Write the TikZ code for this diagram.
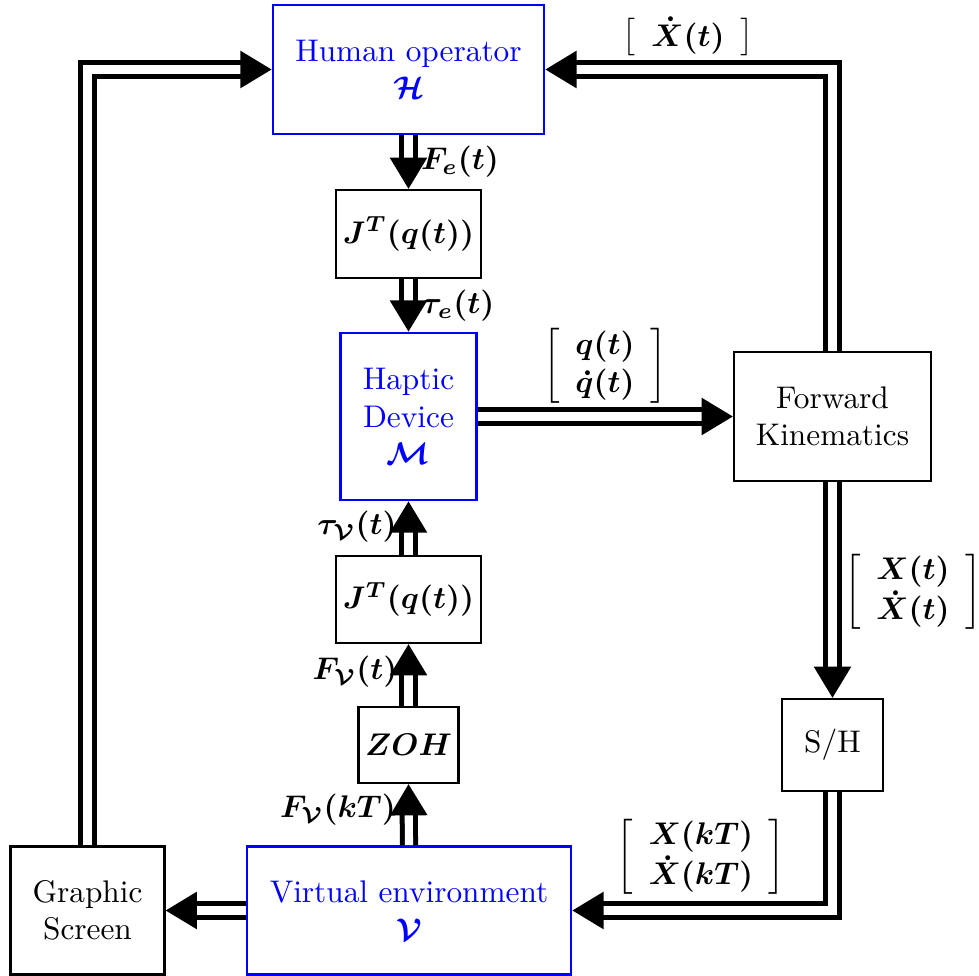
\documentclass[tikz,border=0pt]{standalone}
\usepackage{amsmath}
\usepackage{bm}
\usetikzlibrary{arrows.meta}
\newdimen\pxu \pxu=0.3195pt
\begin{document}
\begin{tikzpicture}[x=0.3195pt,y=-0.3195pt,
 blk/.style={draw=black, line width=0.7pt, align=center, inner sep=0pt},
 blu/.style={draw=blue, text=blue, line width=0.85pt, align=center, inner sep=0pt},
 dbl/.style={draw=black, line width=1.6pt, double=white, double distance=2.6pt, line join=miter, -{Triangle[width=11.6pt,length=10pt]}},
 lbl/.style={inner sep=0pt}]
\useasboundingbox (0,0) rectangle (979,976);
% blocks
\node[blu, minimum width=271\pxu, minimum height=129\pxu] (H) at (408.5,69.5) {Human operator\\ $\bm{\mathcal{H}}$};
\node[blk, minimum width=145\pxu, minimum height=88\pxu] (J1) at (408.5,234) {$\bm{J^T(q(t))}$};
\node[blu, minimum width=136\pxu, minimum height=167\pxu] (M) at (408.5,416.5) {Haptic\\ Device\\ $\bm{\mathcal{M}}$};
\node[blk, minimum width=145\pxu, minimum height=87\pxu] (J2) at (408.5,599.5) {$\bm{J^T(q(t))}$};
\node[blk, minimum width=100\pxu, minimum height=76\pxu] (Z) at (408.5,745) {$\bm{ZOH}$};
\node[blu, minimum width=324\pxu, minimum height=128\pxu] (V) at (409,910.5) {Virtual environment\\ $\bm{\mathcal{V}}$};
\node[blk, minimum width=154\pxu, minimum height=128\pxu] (G) at (87.5,910.5) {Graphic\\ Screen};
\node[blk, minimum width=197\pxu, minimum height=129\pxu] (FK) at (832.5,416.5) {Forward\\ Kinematics};
\node[blk, minimum width=101\pxu, minimum height=92\pxu] (SH) at (832.5,745) {S/H};
% connectors
\draw[dbl] (H.south) -- (J1.north);
\draw[dbl] (J1.south) -- (M.north);
\draw[dbl] (M.east) -- (FK.west);
\draw[dbl] (FK.south) -- (SH.north);
\draw[dbl] (SH.south) |- (V.east);
\draw[dbl] (V.north) -- (Z.south);
\draw[dbl] (Z.north) -- (J2.south);
\draw[dbl] (J2.north) -- (M.south);
\draw[dbl] (FK.north) |- (H.east);
\draw[dbl] (V.west) -- (G.east);
\draw[dbl] (G.north) |- (H.west);
% labels
\node[lbl] (lFe) at (460,162) {$\bm{F_e(t)}$};
\node[lbl] (lte) at (458,306) {$\bm{\tau_e(t)}$};
\node[lbl] (ltv) at (357,527) {$\bm{\tau_{\mathcal{V}}(t)}$};
\node[lbl] (lFv) at (355,672) {$\bm{F_{\mathcal{V}}(t)}$};
\node[lbl] (lFk) at (338,810) {$\bm{F_{\mathcal{V}}(kT)}$};
\node[lbl] (lq) at (605,366) {$\left[\begin{array}{c}\bm{q(t)}\\ \bm{\dot{q}(t)}\end{array}\right]$};
\node[lbl] (lX) at (913,592) {$\left[\begin{array}{c}\bm{X(t)}\\ \bm{\dot{X}(t)}\end{array}\right]$};
\node[lbl] (lXk) at (701,857) {$\left[\begin{array}{c}\bm{X(kT)}\\ \bm{\dot{X}(kT)}\end{array}\right]$};
\node[lbl] (lXd) at (688,37) {$\left[\begin{array}{c}\bm{\dot{X}(t)}\end{array}\right]$};
\end{tikzpicture}
\end{document}
